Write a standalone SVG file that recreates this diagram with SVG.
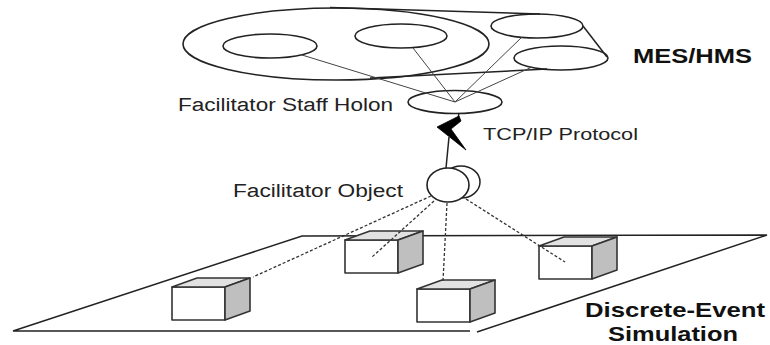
<svg xmlns="http://www.w3.org/2000/svg" width="770" height="345" viewBox="0 0 770 345">
<style>
.ln{fill:none;stroke:#222;stroke-width:1.5}
.thin{fill:none;stroke:#444;stroke-width:1}
.ell{fill:none;stroke:#222;stroke-width:1.6}
.dash{fill:none;stroke:#333;stroke-width:1.3;stroke-dasharray:3 2}
.front{fill:#fff;stroke:#333;stroke-width:1.6;stroke-linejoin:round}
.top{fill:#e2e2e2;stroke:#333;stroke-width:1.6;stroke-linejoin:round}
.side{fill:#bfbfbf;stroke:#333;stroke-width:1.6;stroke-linejoin:round}
.t{font-family:"Liberation Sans",Arial,sans-serif;fill:#222}
.b{font-family:"Liberation Sans",Arial,sans-serif;font-weight:bold;fill:#111}
</style>
<defs>
<g id="box">
<rect class="front" x="0" y="0" width="53" height="33"/>
<polygon class="top" points="0,0 25,-9 78,-9 53,0"/>
<polygon class="side" points="53,0 78,-9 78,24 53,33"/>
</g>
</defs>
<rect width="770" height="345" fill="#fff"/>

<g id="mes-hms">
<ellipse class="ell" cx="336" cy="44" rx="153" ry="36"/>
<ellipse class="ell" cx="270" cy="46" rx="47" ry="12"/>
<ellipse class="ell" cx="401" cy="36" rx="46" ry="12"/>
<ellipse class="ell" cx="537" cy="26" rx="46" ry="12"/>
<ellipse class="ell" cx="561" cy="58" rx="47" ry="12"/>
<line class="ln" x1="330" y1="7.5" x2="540" y2="14"/>
<line class="ln" x1="583" y1="26" x2="607" y2="57"/>
<line class="ln" x1="370" y1="78" x2="547" y2="69"/>
<text class="b" x="633" y="63" font-size="20" textLength="119" lengthAdjust="spacingAndGlyphs">MES/HMS</text>
</g>

<g id="staff-holon">
<ellipse class="ell" cx="455" cy="102" rx="47" ry="11.5"/>
<text class="t" x="178" y="111" font-size="18" textLength="215" lengthAdjust="spacingAndGlyphs">Facilitator Staff Holon</text>
</g>

<g id="plane">
<polyline class="ln" points="470,331 13,331 302,236 767,235 477,332"/>
<text class="b" x="585" y="317" font-size="20.5" textLength="180" lengthAdjust="spacingAndGlyphs">Discrete-Event</text>
<text class="b" x="608" y="341" font-size="20.5" textLength="130" lengthAdjust="spacingAndGlyphs">Simulation</text>
</g>

<g id="box-a"><use href="#box" transform="translate(172,287)"/></g>
<g id="box-b"><use href="#box" transform="translate(345,240)"/></g>
<g id="box-c"><use href="#box" transform="translate(417,289)"/></g>
<g id="box-d"><use href="#box" transform="translate(539,246)"/></g>

<g id="facilitator-object">
<ellipse cx="461" cy="182" rx="19" ry="16" fill="#fff" stroke="#222" stroke-width="1.5"/>
<ellipse cx="448" cy="185" rx="21" ry="17" fill="#fff" stroke="#222" stroke-width="1.6"/>
<text class="t" x="233" y="197" font-size="18" textLength="170" lengthAdjust="spacingAndGlyphs">Facilitator Object</text>
</g>

<g id="connectors">
<line class="thin" x1="455" y1="102" x2="302" y2="55"/>
<line class="thin" x1="455" y1="102" x2="413" y2="48"/>
<line class="thin" x1="455" y1="102" x2="522" y2="37"/>
<line class="thin" x1="455" y1="102" x2="532" y2="67"/>
<g id="tcp-link">
<line class="ln" x1="459" y1="113" x2="458" y2="119"/>
<polygon points="459,116 437,127 466,150 451,129 461,121" fill="#000" stroke="#000" stroke-width="0.8"/>
<line class="ln" x1="449" y1="137" x2="446" y2="168"/>
<text class="t" x="483" y="140" font-size="17" textLength="155" lengthAdjust="spacingAndGlyphs">TCP/IP Protocol</text>
</g>
<line class="dash" x1="431" y1="196" x2="253" y2="277"/>
<line class="dash" x1="434" y1="201" x2="372" y2="257"/>
<line class="dash" x1="447" y1="203" x2="443" y2="281"/>
<line class="dash" x1="466" y1="199" x2="565" y2="262"/>
</g>
</svg>
